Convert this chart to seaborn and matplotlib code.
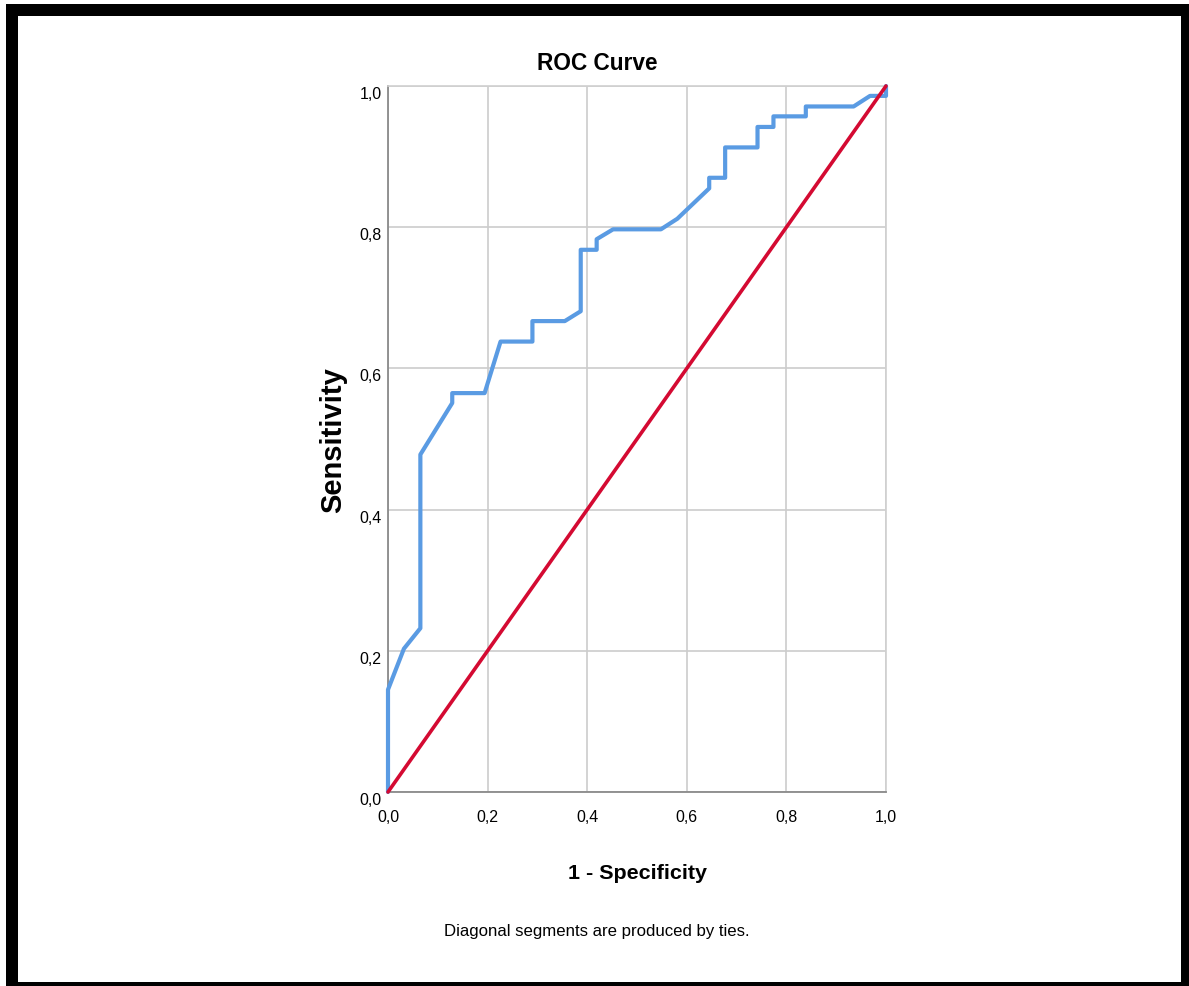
import matplotlib
matplotlib.use("Agg")
import matplotlib.pyplot as plt
from matplotlib import font_manager
from matplotlib.patches import Rectangle
import seaborn as sns
import pandas as pd

# ---- data ----
fpr = [0.0, 0.0, 0.032, 0.065, 0.065, 0.129, 0.129, 0.194, 0.226, 0.290, 0.290,
       0.355, 0.387, 0.387, 0.419, 0.419, 0.452, 0.548, 0.581, 0.645, 0.645,
       0.677, 0.677, 0.742, 0.742, 0.774, 0.774, 0.839, 0.839, 0.935, 0.968,
       1.0, 1.0]
tpr = [0.0, 0.145, 0.203, 0.232, 0.478, 0.551, 0.565, 0.565, 0.638, 0.638, 0.667,
       0.667, 0.681, 0.768, 0.768, 0.783, 0.797, 0.797, 0.812, 0.855, 0.870,
       0.870, 0.913, 0.913, 0.942, 0.942, 0.957, 0.957, 0.971, 0.971, 0.986,
       0.986, 1.0]
ref_x = [0.0, 1.0]
ref_y = [0.0, 1.0]
tick_values = [0.0, 0.2, 0.4, 0.6, 0.8, 1.0]
tick_labels = ["0,0", "0,2", "0,4", "0,6", "0,8", "1,0"]

title = "ROC Curve"
xlabel = "1 - Specificity"
ylabel = "Sensitivity"
footnote = "Diagonal segments are produced by ties."

sns.set_theme(style="white")
names = {f.name for f in font_manager.fontManager.ttflist}
if "Liberation Sans Narrow" in names:
    narrow = ["Liberation Sans Narrow", "DejaVu Sans"]
    k = 1.0
else:
    narrow = ["Liberation Sans", "DejaVu Sans"]
    k = 0.86
regular = ["Liberation Sans", "DejaVu Sans"]
plt.rcParams["font.family"] = narrow

W, H = 1189, 987
fig = plt.figure(figsize=(W / 100, H / 100), dpi=100, facecolor="white")

# black frame around the picture
fig.patches.append(Rectangle((6 / W, 0), 1 - 6 / W, 1 - 5 / H, transform=fig.transFigure,
                             facecolor="black", edgecolor="none", zorder=-3))
fig.patches.append(Rectangle((18 / W, 4 / H), (1181 - 18) / W, (983 - 17) / H,
                             transform=fig.transFigure, facecolor="white",
                             edgecolor="none", zorder=-2))

ax = fig.add_axes([388 / W, (H - 793) / H, 498 / W, 706 / H])
ax.set_facecolor("white")

roc = pd.DataFrame({"x": fpr, "y": tpr})
diag = pd.DataFrame({"x": ref_x, "y": ref_y})
sns.lineplot(data=roc, x="x", y="y", sort=False, estimator=None, ax=ax,
             color="#5a9be3", linewidth=3.0, clip_on=False, zorder=3)
sns.lineplot(data=diag, x="x", y="y", sort=False, estimator=None, ax=ax,
             color="#d40a32", linewidth=2.6, clip_on=False, zorder=4)

ax.set_xlim(0, 1)
ax.set_ylim(0, 1)
ax.set_xticks(tick_values)
ax.set_xticklabels(tick_labels)
ax.set_yticks(tick_values)
ax.set_yticklabels(tick_labels)
for lab in ax.get_yticklabels():
    lab.set_va("top")
ax.tick_params(axis="both", length=0, labelsize=11.5, colors="black")
ax.tick_params(axis="x", pad=12)
ax.tick_params(axis="y", pad=4.5)

ax.grid(True, color="#cccccc", linewidth=1.2)
ax.set_axisbelow(True)
for s in ["left", "bottom"]:
    ax.spines[s].set_color("#8a8a8a")
    ax.spines[s].set_linewidth(1.3)
for s in ["top", "right"]:
    ax.spines[s].set_color("#d0d0d0")
    ax.spines[s].set_linewidth(1.2)

ax.set_xlabel(xlabel, fontsize=18 * k, fontweight="bold", va="center", color="black")
ax.xaxis.set_label_coords(0.5, -0.114)
ax.set_ylabel(ylabel, fontsize=21, fontweight="bold", va="center", ha="center",
              color="black", family=regular)
ax.yaxis.set_label_coords((333 - 388) / 498, 0.5)

fig.text(597 / W, 1 - 63 / H, title, ha="center", va="center",
         fontsize=19 * k, fontweight="bold", color="black")
fig.text(597 / W, 1 - 932 / H, footnote, ha="center", va="center",
         fontsize=14 * k, color="black")

fig.savefig("out.png", dpi=100, facecolor="white")
